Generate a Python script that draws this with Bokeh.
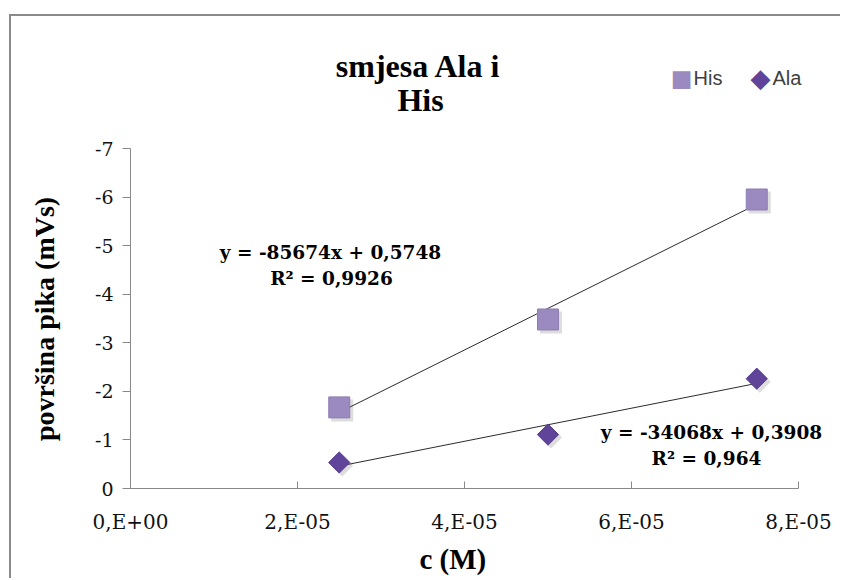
from bokeh.plotting import figure
from bokeh.layouts import column, row
from bokeh.models import Range1d, FixedTicker, Label, Spacer
from bokeh.embed import file_html
from bokeh.resources import INLINE

# ---- data ----
conc = [2.5e-5, 5.0e-5, 7.5e-5]
his = [-1.67, -3.48, -5.95]
ala = [-0.535, -1.11, -2.26]
his_fit = [-85674, 0.5748]          # slope, intercept
ala_fit = [-34068, 0.3908]
his_eq = ["y = -85674x + 0,5748", "R² = 0,9926"]
ala_eq = ["y = -34068x + 0,3908", "R² = 0,964"]
series_names = ["His", "Ala"]
x_ticks = [0, 2e-5, 4e-5, 6e-5, 8e-5]
x_tick_labels = ["0,E+00", "2,E-05", "4,E-05", "6,E-05", "8,E-05"]
y_ticks = [0, -1, -2, -3, -4, -5, -6, -7]
y_tick_labels = ["0", "-1", "-2", "-3", "-4", "-5", "-6", "-7"]
title_lines = ["smjesa Ala i", "His"]
x_label = "c (M)"
y_label = "površina pika (mVs)"

HIS_COLOR = "#9a8abf"
ALA_COLOR = "#60449a"
AXIS_COLOR = "#898989"
BORDER_COLOR = "#8a8a8a"
SERIF = "Liberation Serif"
EQ_FONT = "DejaVu Serif"
NBSP = "\u00a0"

# plot area (axes extent) inside a larger frame so that the title,
# legend and labels above/right of the axes are drawn without clipping
PLOT_W, PLOT_H = 668, 340
FRAME_W, FRAME_H = 710, 472
BORDER_L, BORDER_B = 119, 90
x_end = x_ticks[-1] * FRAME_W / PLOT_W
y_end = y_ticks[-1] * FRAME_H / PLOT_H

p = figure(title=None, frame_width=FRAME_W, frame_height=FRAME_H,
           x_range=Range1d(x_ticks[0], x_end),
           y_range=Range1d(y_ticks[0], y_end),
           output_backend="svg", toolbar_location=None,
           min_border_left=BORDER_L, min_border_right=0,
           min_border_top=0, min_border_bottom=BORDER_B,
           background_fill_color="white", border_fill_color="white")
p.xgrid.visible = False
p.ygrid.visible = False
p.outline_line_color = None

xa = p.xaxis[0]
xa.bounds = (x_ticks[0], x_ticks[-1])
xa.ticker = FixedTicker(ticks=x_ticks)
xa.major_label_overrides = dict(zip(x_ticks, x_tick_labels))
xa.major_tick_in = 7
xa.major_tick_out = 0
xa.minor_tick_in = 0
xa.minor_tick_out = 0
xa.axis_line_color = AXIS_COLOR
xa.major_tick_line_color = AXIS_COLOR
xa.major_label_text_font = EQ_FONT
xa.major_label_text_font_size = "20px"
xa.major_label_text_color = "#111111"
xa.major_label_standoff = 21
# label centred under the axes extent (frame is wider than the axes)
xa.axis_label = x_label + NBSP * 9
xa.axis_label_text_font = SERIF
xa.axis_label_text_font_style = "bold"
xa.axis_label_text_font_size = "29px"
xa.axis_label_text_color = "#000000"
xa.axis_label_standoff = 6

ya = p.yaxis[0]
ya.bounds = (y_ticks[-1], y_ticks[0])
ya.ticker = FixedTicker(ticks=y_ticks)
ya.major_label_overrides = dict(zip(y_ticks, y_tick_labels))
ya.major_tick_in = 0
ya.major_tick_out = 8
ya.minor_tick_in = 0
ya.minor_tick_out = 0
ya.axis_line_color = AXIS_COLOR
ya.major_tick_line_color = AXIS_COLOR
ya.major_label_text_font = EQ_FONT
ya.major_label_text_font_size = "19px"
ya.major_label_text_color = "#111111"
ya.major_label_standoff = 9
ya.axis_label = y_label + NBSP * 19
ya.axis_label_text_font = SERIF
ya.axis_label_text_font_style = "bold"
ya.axis_label_text_font_size = "28px"
ya.axis_label_text_color = "#000000"
ya.axis_label_standoff = 32

# trend lines
xs_fit = [conc[0], conc[-1]]
p.line(xs_fit, [his_fit[0] * x + his_fit[1] for x in xs_fit], line_color="#2b2b2b", line_width=1)
p.line(xs_fit, [ala_fit[0] * x + ala_fit[1] for x in xs_fit], line_color="#2b2b2b", line_width=1)

# soft shadows (3 px right / down)
dx = 3 * (x_ticks[-1] - x_ticks[0]) / PLOT_W
dy = 3 * (y_ticks[0] - y_ticks[-1]) / PLOT_H
p.scatter([c + dx for c in conc], [v + dy for v in his], marker="square", size=22,
          fill_color="#777777", fill_alpha=0.25, line_color=None, level="underlay")
p.scatter([c + dx for c in conc], [v + dy for v in ala], marker="square", angle=0.785398,
          size=15.5, fill_color="#777777", fill_alpha=0.25, line_color=None, level="underlay")

# markers
p.scatter(conc, his, marker="square", size=21, fill_color=HIS_COLOR,
          line_color="#8d7db3", line_width=1)
p.scatter(conc, ala, marker="square", angle=0.785398, size=15, fill_color=ALA_COLOR,
          line_color="#573c8c", line_width=1)

def lab(text, x, y, font, size, bold=True, align="center", color="#000000"):
    p.add_layout(Label(x=x, y=y, x_units="screen", y_units="screen", text=text,
                       text_align=align, text_baseline="middle", text_font=font,
                       text_font_size=size, text_font_style="bold" if bold else "normal",
                       text_color=color))

# positions: pixels from the plot-area's left / bottom corner
lab(title_lines[0], 288, 423, SERIF, "32px")
lab(title_lines[1], 290, 389, SERIF, "32px")
lab(his_eq[0], 200, 236, EQ_FONT, "18.5px")
lab(his_eq[1], 201, 210, EQ_FONT, "18.5px")
lab(ala_eq[0], 581, 56, EQ_FONT, "18.5px")
lab(ala_eq[1], 576, 30, EQ_FONT, "18.5px")
# legend
lab("■", 551, 411, "DejaVu Sans", "23px", bold=False, color=HIS_COLOR)
lab(series_names[0], 563, 411, "Liberation Sans", "20px", bold=False, align="left", color="#404040")
lab("◆", 630, 411, "DejaVu Sans", "26px", bold=False, color=ALA_COLOR)
lab(series_names[1], 642, 411, "Liberation Sans", "20px", bold=False, align="left", color="#404040")

# chart-area border: only its top and left edges are inside the picture
canvas_w = BORDER_L + FRAME_W
canvas_h = FRAME_H + BORDER_B
left_edge = Spacer(width=2, height=canvas_h + 2, background=BORDER_COLOR)
top_edge = Spacer(width=canvas_w, height=2, background=BORDER_COLOR)
layout = row(left_edge, column(top_edge, p, spacing=0), spacing=0, margin=(14, 0, 0, 9))

open("out.html", "w").write(file_html(layout, INLINE))
